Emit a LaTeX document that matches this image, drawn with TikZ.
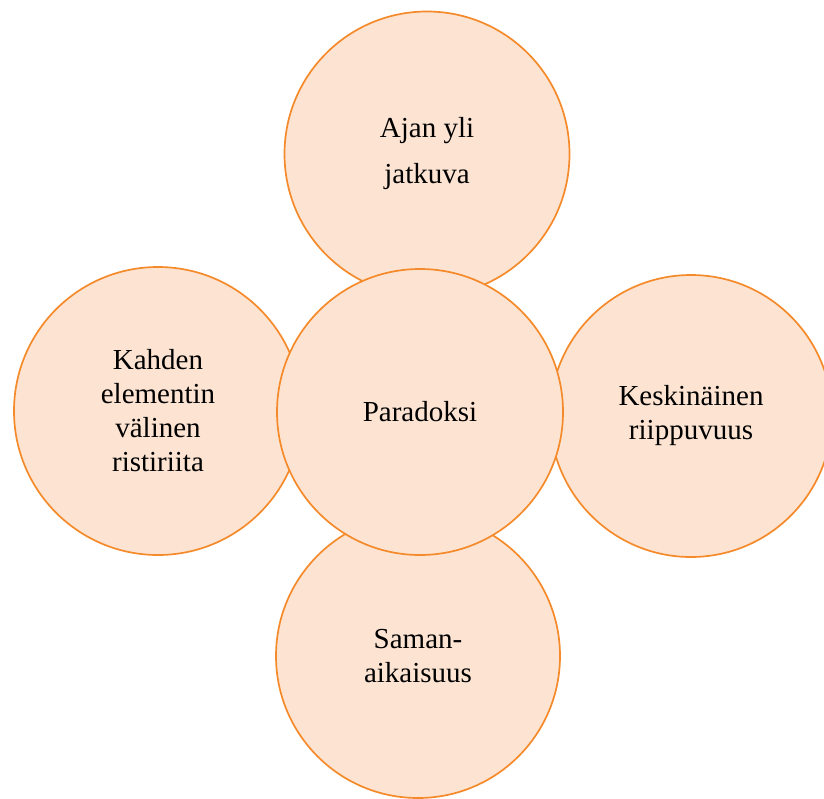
\documentclass[tikz,border=0pt]{standalone}
\usepackage{fontspec}
\setmainfont{Liberation Serif}
\usetikzlibrary{positioning}
\definecolor{PeachFill}{RGB}{253,228,210}
\definecolor{OrangeLine}{RGB}{245,138,43}

\begin{document}
\begin{tikzpicture}[x=1pt,y=-1pt,
    bubble/.style={circle,draw=OrangeLine,fill=PeachFill,line width=1.7pt,
      inner sep=0pt,align=center,font=\fontsize{29}{34}\selectfont}]
  \useasboundingbox (0,0) rectangle (824,798);
  \node[bubble,minimum size=285pt] (jatkuva) at (427,154) {Ajan yli\\[12pt]jatkuva};
  \node[bubble,minimum size=284pt] (saman) at (418,656) {Saman-\\aikaisuus};
  \node[bubble,minimum size=288pt] (ristiriita) at (158,411) {Kahden\\elementin\\välinen\\ristiriita};
  \node[bubble,minimum size=282pt] (riippuvuus) at (691,416) {Keskinäinen\\riippuvuus};
  \node[bubble,minimum size=286pt] (paradoksi) at (420,412) {Paradoksi};
\end{tikzpicture}
\end{document}
